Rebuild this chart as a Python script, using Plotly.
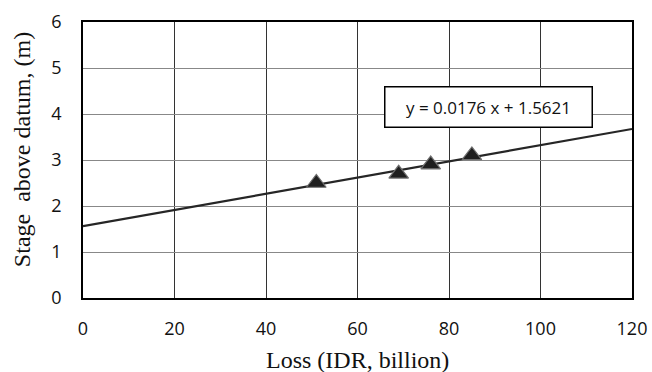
import plotly.graph_objects as go

loss = [51, 69, 76, 85]
stage = [2.5, 2.7, 2.9, 3.1]
slope = 0.0176
intercept = 1.5621
trend_x = [0, 120]
trend_y = [intercept + slope * v for v in trend_x]
eq_text = "y = 0.0176 x + 1.5621"
x_title = "Loss (IDR, billion)"
y_title = "Stage  above datum, (m)"

fig = go.Figure()
fig.add_trace(go.Scatter(x=trend_x, y=trend_y, mode="lines",
                         line=dict(color="#262626", width=2.2), showlegend=False))
fig.add_trace(go.Scatter(x=loss, y=stage, mode="markers",
                         marker=dict(symbol="triangle-up", size=17, color="#1f1f1f",
                                     line=dict(color="#6e6e6e", width=1.2)),
                         showlegend=False))

fig.add_annotation(x=88.6, y=4.15, xref="x", yref="y", text=eq_text, showarrow=False,
                   font=dict(family="Open Sans", size=17, color="#111"),
                   bgcolor="white", bordercolor="black", borderwidth=1.5,
                   borderpad=8, width=190)

title_font = dict(family="Liberation Serif", size=24, color="#111")
fig.add_annotation(x=0.5, y=-0.2246, xref="paper", yref="paper", text=x_title,
                   showarrow=False, xanchor="center", yanchor="middle", font=title_font)
fig.add_annotation(x=-0.111, y=0.536, xref="paper", yref="paper", text=y_title,
                   showarrow=False, xanchor="center", yanchor="middle", textangle=-90,
                   font=title_font)

fig.update_layout(
    width=652, height=372,
    margin=dict(l=83, r=20, t=22, b=74, autoexpand=False),
    paper_bgcolor="white", plot_bgcolor="white",
    xaxis=dict(range=[0, 120], tickvals=[0, 20, 40, 60, 80, 100, 120],
               showgrid=True, gridcolor="#333", gridwidth=1,
               zeroline=False, showline=True, linecolor="black", linewidth=1.5, mirror=True,
               ticks="outside", ticklen=14, tickcolor="rgba(0,0,0,0)",
               tickfont=dict(family="Open Sans", size=18, color="#111")),
    yaxis=dict(range=[0, 6], tickvals=[0, 1, 2, 3, 4, 5, 6],
               showgrid=True, gridcolor="#888", gridwidth=1,
               zeroline=False, showline=True, linecolor="black", linewidth=1.5, mirror=True,
               ticks="outside", ticklen=16, tickcolor="rgba(0,0,0,0)",
               tickfont=dict(family="Open Sans", size=18, color="#111")),
)

fig.write_html("out.html")
